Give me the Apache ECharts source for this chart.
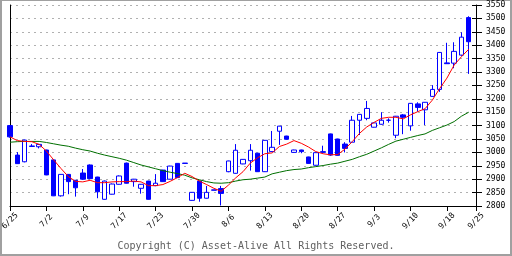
<!DOCTYPE html>
<html><head><meta charset="utf-8">
<script src="https://cdn.jsdelivr.net/npm/echarts@6/dist/echarts.min.js"></script>
<style>html,body{margin:0;padding:0;background:#fff}#c{width:512px;height:256px}</style>
</head><body><div id="c"></div>
<script>
const tickLabels = ['6/25','7/2','7/9','7/17','7/23','7/30','8/6','8/13','8/20','8/27','9/3','9/10','9/18','9/25'];
const tickSlots = [0,5,10,15,20,25,30,35,40,45,50,55,60,64];
const slotCount = 65;

const opens  = [3100,2990,2965,3022,3021,3009,2972,2838,2918,2896,2923,2953,2908,2825,2844,2881,2960,2891,2866,2893,2876,2934,2900,2959,2960,2821,2893,2829,2860,2865,2928,2922,2957,2969,2997,2928,3003,3079,3061,3000,3009,2983,2952,3000,3069,3050,3031,3038,3120,3127,3094,3105,3120,3064,3140,3099,3181,3159,3209,3235,3334,3333,3363,3503];
const closes = [3058,2958,3046,3024,3030,2916,2838,2918,2891,2868,2900,2902,2853,2893,2882,2912,2885,2900,2881,2825,2885,2891,2949,2906,2959,2851,2829,2851,2859,2847,2968,3008,2974,3008,2928,3045,3019,3098,3049,3009,3003,2959,2999,3003,2990,2989,3015,3120,3142,3164,3110,3120,3120,3135,3131,3183,3168,3187,3235,3373,3331,3377,3430,3413];
const lows   = [3055,2957,2963,3021,3015,2915,2837,2835,2844,2835,2898,2900,2829,2824,2843,2880,2884,2872,2846,2824,2874,2890,2899,2905,2958,2820,2816,2828,2859,2802,2926,2921,2956,2932,2927,2927,3002,3028,3048,2999,2997,2958,2951,2999,2987,2988,3000,3037,3065,3120,3093,3104,3111,3053,3068,3081,3152,3102,3208,3226,3330,3314,3360,3293];
const highs  = [3102,3001,3048,3031,3031,3010,2973,2919,2919,2897,2938,2955,2909,2895,2884,2914,2962,2901,2882,2894,2919,2935,2950,2960,2960,2852,2894,2875,2860,2875,2969,3031,2975,3031,2998,3046,3080,3099,3062,3010,3010,2984,3000,3025,3070,3051,3038,3136,3143,3192,3111,3150,3127,3136,3143,3184,3187,3188,3251,3374,3409,3411,3448,3508];
const maShort = [3058,3044,3041,3040,3030,3005,2972,2940,2910,2892,2890,2896,2887,2887,2890,2891,2891,2893,2890,2876,2876,2880,2892,2906,2922,2910,2893,2880,2866,2855,2878,2905,2928,2960,2980,2995,2998,3022,3031,3044,3034,3020,3003,2995,2991,2992,3012,3040,3071,3095,3112,3127,3131,3131,3125,3140,3152,3163,3195,3238,3277,3326,3357,3385];
const maLong  = [3038,3040,3041,3041,3041,3037,3032,3027,3023,3016,3010,3005,2997,2990,2984,2978,2971,2962,2953,2946,2939,2932,2926,2921,2915,2905,2898,2891,2886,2885,2887,2893,2898,2900,2904,2908,2920,2926,2932,2936,2938,2943,2947,2951,2956,2960,2967,2974,2984,2993,3005,3017,3030,3042,3049,3056,3063,3069,3082,3092,3102,3115,3135,3150];
const yMin = 2800, yMax = 3550, yStep = 50;
const copyright = 'Copyright (C) Asset-Alive All Rights Reserved.';

const categories = Array.from({length: slotCount}, (_, i) => {
  const k = tickSlots.indexOf(i); return k >= 0 ? tickLabels[k] : '';
});
const ohlc = opens.map((o, i) => [o, closes[i], lows[i], highs[i]]);
const showAt = (i) => tickSlots.indexOf(i) >= 0;
const FONT = 'DejaVu Sans Mono';
const baseY = {type:'value', min:yMin, max:yMax, interval:yStep, scale:false};

const chart = echarts.init(document.getElementById('c'), null, {renderer:'canvas'});
chart.setOption({
  animation:false,
  backgroundColor:'#fff',
  grid:{left:10, top:5, width:466, height:201, containLabel:false, outerBoundsMode:'none'},
  xAxis:{type:'category', data:categories, boundaryGap:false,
    axisLine:{show:true, lineStyle:{color:'#000', width:1}},
    axisTick:{show:true, length:5, interval:showAt, lineStyle:{color:'#000'}},
    axisLabel:{interval:showAt, rotate:45, align:'center', verticalAlign:'middle', fontSize:8, fontFamily:FONT, color:'#000', margin:15},
    splitLine:{show:false}},
  yAxis:[
    Object.assign({}, baseY, {position:'right',
      axisLine:{show:true, lineStyle:{color:'#000'}},
      axisTick:{show:true, inside:false, length:6, lineStyle:{color:'#000'}},
      axisLabel:{show:true, fontSize:8, fontFamily:FONT, color:'#000', margin:10, formatter:(v)=>String(v)},
      splitLine:{show:true, lineStyle:{color:'#b0b0b0', type:[2,4], width:1}}}),
    Object.assign({}, baseY, {position:'right',
      axisLine:{show:false},
      axisTick:{show:true, inside:true, length:4, lineStyle:{color:'#000'}},
      axisLabel:{show:false}, splitLine:{show:false}}),
    Object.assign({}, baseY, {position:'left',
      axisLine:{show:true, lineStyle:{color:'#000'}},
      axisTick:{show:false}, axisLabel:{show:false}, splitLine:{show:false}})
  ],
  series:[
    {type:'candlestick', data:ohlc, yAxisIndex:0, barWidth:5, clip:false,
      itemStyle:{color:'#ffffff', color0:'#0000ff', borderColor:'#0000ff', borderColor0:'#0000ff', borderColorDoji:'#0000ff', borderWidth:1}},
    {type:'line', data:maLong, yAxisIndex:0, showSymbol:false, symbol:'none', lineStyle:{color:'#006f00', width:1}, z:3},
    {type:'line', data:maShort, yAxisIndex:0, showSymbol:false, symbol:'none', lineStyle:{color:'#ff0000', width:1}, z:4}
  ],
  graphic:[
    {type:'rect', shape:{x:0, y:0, width:512, height:1}, style:{fill:'#a0a0a0'}},
    {type:'rect', shape:{x:0, y:0, width:2, height:256}, style:{fill:'#a0a0a0'}},
    {type:'rect', shape:{x:510, y:0, width:2, height:256}, style:{fill:'#a0a0a0'}},
    {type:'rect', shape:{x:0, y:254, width:512, height:2}, style:{fill:'#a0a0a0'}},
    {type:'text', left:'center', top:241, style:{text:copyright, font:'10px "DejaVu Sans Mono"', fill:'#606060'}}
  ]
});
</script></body></html>
